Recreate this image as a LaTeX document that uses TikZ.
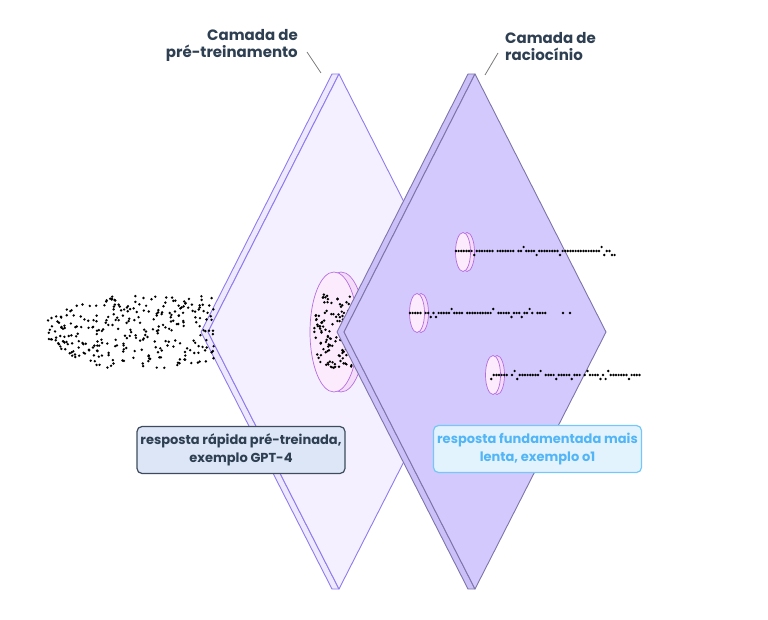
\documentclass[tikz,border=0pt]{standalone}
\usepackage{fontspec}
\setmainfont{Poppins}
\definecolor{labeltxt}{HTML}{2E3F52}
\definecolor{leadercol}{HTML}{7A7A7A}
\definecolor{pone}{HTML}{F4F0FF}
\definecolor{ponestrip}{HTML}{EFE9FF}
\definecolor{poneedge}{HTML}{8F7AEE}
\definecolor{ptwo}{HTML}{D3C9FC}
\definecolor{ptwostrip}{HTML}{CBC0F8}
\definecolor{ptwoedge}{HTML}{7E74AA}
\definecolor{holeedge}{HTML}{B56CE3}
\definecolor{holefront}{HTML}{FBEBFC}
\definecolor{holeback}{HTML}{F4DCF8}
\definecolor{boxonefill}{HTML}{DCE6F7}
\definecolor{boxoneedge}{HTML}{3D4B5C}
\definecolor{boxtwofill}{HTML}{E3F3FE}
\definecolor{boxtwoedge}{HTML}{74C7F7}
\definecolor{boxtwotxt}{HTML}{52B5F5}
\newcommand\mydotline[3]{%
  \pgfmathtruncatemacro\nn{(#3-#2)/2.6}%
  \foreach \k in {0,...,\nn}{%
    \pgfmathsetmacro\xx{#2+2.6*\k}%
    \pgfmathsetmacro\rr{rnd}%
    \pgfmathsetmacro\yy{(\rr<0.1) ? (#1+4) : ((\rr>0.93) ? (#1-4) : #1)}%
    \pgfmathsetmacro\ss{rnd}%
    \ifdim\ss pt>0.1pt \fill (\xx,\yy) circle (1.35); \fi
  }%
}
\begin{document}
\begin{tikzpicture}[x=1pt,y=-1pt,
  toplabel/.style={font=\fontsize{15}{17}\selectfont\bfseries, text=labeltxt, inner sep=0pt},
  leader/.style={draw=leadercol, line width=0.8pt},
  planeone/.style={fill=pone, draw=poneedge, line width=0.9pt, line join=round},
  planeonestrip/.style={fill=ponestrip, draw=poneedge, line width=0.9pt, line join=round},
  planetwo/.style={fill=ptwo, draw=ptwoedge, line width=0.9pt, line join=round},
  planetwostrip/.style={fill=ptwostrip, draw=ptwoedge, line width=0.9pt, line join=round},
  holef/.style={fill=holefront, draw=holeedge, line width=0.7pt},
  holeb/.style={fill=holeback, draw=holeedge, line width=0.7pt},
  boxbase/.style={rounded corners=5pt, line width=1.2pt, align=center,
     font=\fontsize{13}{18}\selectfont\bfseries, minimum width=208pt, minimum height=47pt, inner sep=2pt},
  boxone/.style={boxbase, fill=boxonefill, draw=boxoneedge, text=labeltxt},
  boxtwo/.style={boxbase, fill=boxtwofill, draw=boxtwoedge, text=boxtwotxt}
]
\useasboundingbox (0,0) rectangle (768,620);
\pgfmathsetseed{20240}
% plane 1
\path[planeonestrip] (332,74)--(201,332)--(332,589)--(339,589)--(208,332)--(339,74)--cycle;
\path[planeone] (339,74)--(208,332)--(339,589)--(470,332)--cycle;
% hole in plane 1
\path[holeb] (341,332) ellipse (24 and 60);
\path[holef] (334,332) ellipse (24 and 60);
\foreach \k in {1,...,150}{%
  \pgfmathsetmacro\xx{310+44*rnd}%
  \pgfmathsetmacro\yy{294+76*rnd}%
  \pgfmathsetmacro\qq{((\xx-336)/24)^2+((\yy-332)/58)^2}%
  \ifdim\qq pt<0.85pt \fill (\xx,\yy) circle (1.35); \fi
}
% cloud of dots
\foreach \k in {1,...,300}{%
  \pgfmathsetmacro\xx{48+166*rnd}%
  \pgfmathsetmacro\hh{min(36,16+20*(\xx-48)/55)}%
  \pgfmathsetmacro\yy{332+\hh*(2*rnd-1)}%
  \fill (\xx,\yy) circle (1.35);
}
% plane 2
\path[planetwostrip] (468,74)--(337,332)--(468,589)--(475,589)--(344,332)--(475,74)--cycle;
\path[planetwo] (475,74)--(344,332)--(475,589)--(606,332)--cycle;
% holes in plane 2
\path[holeb] (467,252) ellipse (7.5 and 19.5);
\path[holef] (463,252) ellipse (7.5 and 19.5);
\path[holeb] (421,313) ellipse (7.5 and 19.5);
\path[holef] (417,313) ellipse (7.5 and 19.5);
\path[holeb] (497,375) ellipse (7.5 and 19.5);
\path[holef] (493,375) ellipse (7.5 and 19.5);
% dot lines
\mydotline{251}{456}{615}
\mydotline{313}{410}{549}
\fill (563,313) circle (1.35);
\fill (570,313) circle (1.35);
\mydotline{375}{486}{640}
% labels
\node[toplabel, anchor=north east, align=right] (labone) at (298,29) {Camada de\\pré-treinamento};
\node[toplabel, anchor=north west, align=left] (labtwo) at (505,32) {Camada de\\raciocínio};
\coordinate (labonea) at (307,52);
\coordinate (laboneb) at (321,73);
\coordinate (labtwoa) at (498,53);
\coordinate (labtwob) at (485,75);
\draw[leader] (labonea) -- (laboneb);
\draw[leader] (labtwoa) -- (labtwob);
% boxes
\node[boxone] (boxa) at (241,450) {resposta rápida pré-treinada,\\exemplo GPT-4};
\node[boxtwo] (boxb) at (537.5,449) {resposta fundamentada mais\\lenta, exemplo o1};
\end{tikzpicture}
\end{document}
